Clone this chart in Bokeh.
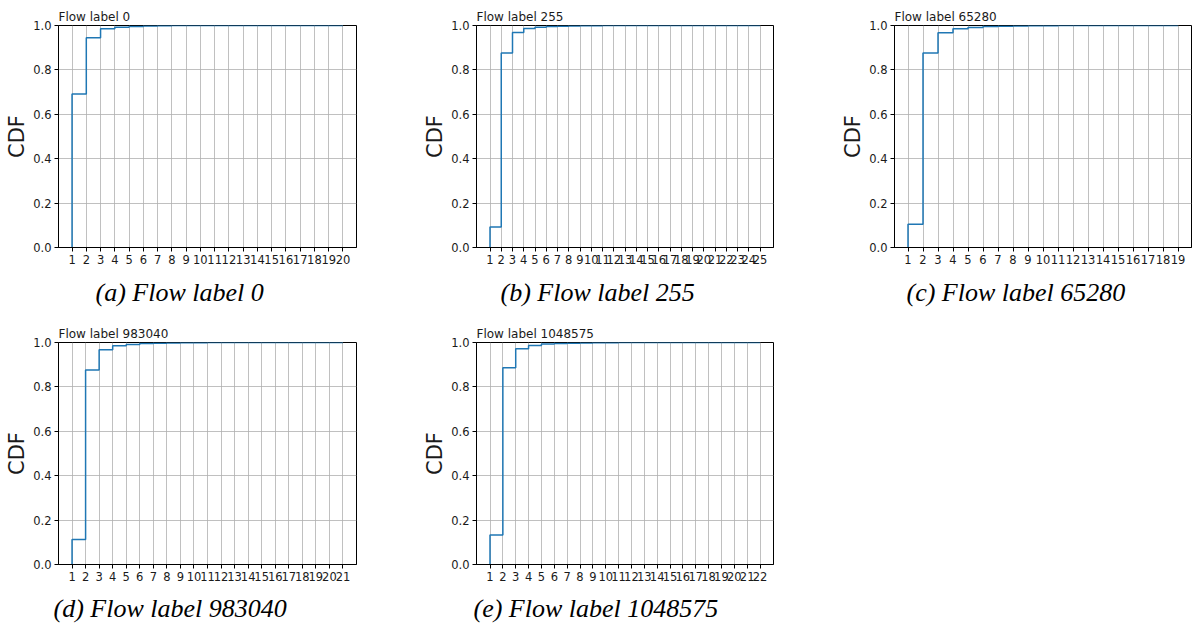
from bokeh.plotting import figure
from bokeh.layouts import column, row
from bokeh.models import Range1d, FixedTicker, Title, AllLabels, PrintfTickFormatter
from bokeh.embed import file_html
from bokeh.resources import INLINE

# ---------------- data ----------------
titles = ["Flow label 0", "Flow label 255", "Flow label 65280",
          "Flow label 983040", "Flow label 1048575"]
captions = ["(a) Flow label 0", "(b) Flow label 255", "(c) Flow label 65280",
            "(d) Flow label 983040", "(e) Flow label 1048575"]

cdf_a = [0.692, 0.945, 0.985, 0.992, 0.996, 0.998, 0.999, 0.9995, 0.9997, 0.9998,
         0.9999, 0.9999, 1.0, 1.0, 1.0, 1.0, 1.0, 1.0, 1.0, 1.0]
cdf_b = [0.092, 0.876, 0.968, 0.986, 0.992, 0.995, 0.997, 0.998, 0.999, 0.9993,
         0.9995, 0.9997, 0.9998, 0.9999, 0.9999, 1.0, 1.0, 1.0, 1.0, 1.0,
         1.0, 1.0, 1.0, 1.0, 1.0]
cdf_c = [0.105, 0.876, 0.967, 0.985, 0.991, 0.995, 0.997, 0.998, 0.999, 0.9993,
         0.9995, 0.9997, 0.9999, 1.0, 1.0, 1.0, 1.0, 1.0, 1.0]
cdf_d = [0.113, 0.876, 0.967, 0.985, 0.991, 0.995, 0.997, 0.998, 0.999, 0.9993,
         0.9995, 0.9997, 0.9998, 0.9999, 1.0, 1.0, 1.0, 1.0, 1.0, 1.0, 1.0]
cdf_e = [0.133, 0.886, 0.972, 0.986, 0.993, 0.996, 0.997, 0.998, 0.999, 0.9993,
         0.9995, 0.9997, 0.9998, 0.9999, 1.0, 1.0, 1.0, 1.0, 1.0, 1.0, 1.0, 1.0]
series = [cdf_a, cdf_b, cdf_c, cdf_d, cdf_e]
y_ticks = [0.0, 0.2, 0.4, 0.6, 0.8, 1.0]

# ---------------- styling ----------------
SANS = "DejaVu Sans"
SERIF = "Liberation Serif"
TXT = "#1a1a1a"
BLUE = "#1f77b4"
GRID = "#b0b0b0"

# per-panel layout (border_left, frame_w, border_right, border_top, border_bottom)
layout_params = [
    (58, 298, 44, 25, 66),
    (76, 297, 45, 25, 66),
    (76, 297, 1, 25, 66),
    (58, 298, 44, 26, 67),
    (76, 297, 45, 26, 67),
]
caption_left = [37, 24, 12, -5, -3]
caption_standoff = [19, 19, 19, 17, 17]
FRAME_H = 222


def make_panel(i):
    vals = series[i]
    n = len(vals)
    xs = [1] + list(range(1, n + 1))
    ys = [0.0] + vals
    margin = 0.05 * (n - 1)
    x0, x1 = 1 - margin, n + margin
    bl, fw, br, bt, bb = layout_params[i]

    p = figure(frame_width=fw, frame_height=FRAME_H,
               min_border_left=bl, min_border_right=br,
               min_border_top=bt, min_border_bottom=bb,
               x_range=Range1d(x0, x1), y_range=Range1d(0, 1),
               output_backend="svg", toolbar_location=None,
               background_fill_color="white", border_fill_color="white")
    p.outline_line_color = "black"
    p.outline_line_width = 1

    p.step(xs, ys, mode="after", line_color=BLUE, line_width=1.5)

    for ax in (p.xaxis[0], p.yaxis[0]):
        ax.axis_line_color = "black"
        ax.major_tick_out = 4
        ax.major_tick_in = 0
        ax.minor_tick_line_color = None
        ax.major_tick_line_color = "black"
        ax.major_label_text_font = SANS
        ax.major_label_text_font_size = "11.5px"
        ax.major_label_text_color = TXT
        ax.major_label_standoff = 3
        ax.major_label_policy = AllLabels()
    p.xaxis.ticker = FixedTicker(ticks=list(range(1, n + 1)))
    p.yaxis.ticker = FixedTicker(ticks=y_ticks)
    p.yaxis.formatter = PrintfTickFormatter(format="%.1f")

    p.yaxis.axis_label = "CDF"
    p.yaxis.axis_label_text_font = SANS
    p.yaxis.axis_label_text_font_size = "21px"
    p.yaxis.axis_label_text_font_style = "normal"
    p.yaxis.axis_label_text_color = TXT
    p.yaxis.axis_label_standoff = 1

    p.xgrid.grid_line_color = GRID
    p.ygrid.grid_line_color = GRID
    p.xgrid.grid_line_width = 0.8
    p.ygrid.grid_line_width = 0.8

    p.title = Title(text=titles[i], align="left", offset=0, standoff=3,
                    text_font=SANS, text_font_size="12px", text_font_style="normal",
                    text_color=TXT)
    p.add_layout(Title(text=captions[i], align="left", offset=caption_left[i],
                       standoff=caption_standoff[i], text_font=SERIF,
                       text_font_style="italic", text_font_size="26px",
                       text_color="black"), "below")
    return p


panels = [make_panel(i) for i in range(5)]
layout = column(row(panels[0], panels[1], panels[2]), row(panels[3], panels[4]))

open("out.html", "w").write(file_html(layout, INLINE))
